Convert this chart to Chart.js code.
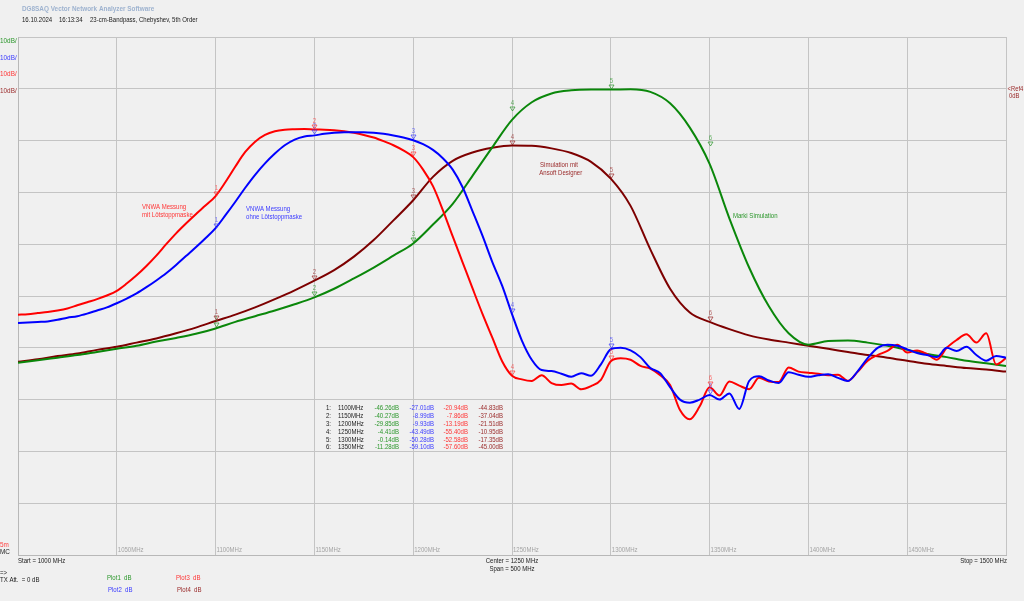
<!DOCTYPE html>
<html>
<head>
<meta charset="utf-8">
<script src="https://cdn.jsdelivr.net/npm/chart.js@4.4.1/dist/chart.umd.min.js"></script>
<style>
  body { margin: 0; background: #f0f0f0; }
  canvas { display: block; }
</style>
</head>
<body>
<canvas id="vnwa" width="1024" height="601"></canvas>
<script>
'use strict';

// frequency grids (MHz)
var freqCoarse = [1000, 1010, 1020, 1030, 1040, 1050, 1060, 1070, 1080, 1090,
  1100, 1110, 1120, 1130, 1140, 1150, 1160, 1170, 1180, 1190,
  1200, 1210, 1220, 1230, 1240, 1250, 1260, 1270, 1280, 1290,
  1300, 1310, 1320, 1330, 1340, 1350, 1360, 1370, 1380, 1390,
  1400, 1410, 1420, 1430, 1440, 1450, 1460, 1470, 1480, 1490, 1500];

var freqFine = [1000, 1005, 1010, 1015, 1020, 1025, 1030, 1035, 1040, 1045,
  1050, 1055, 1060, 1065, 1070, 1075, 1080, 1085, 1090, 1095,
  1100, 1105, 1110, 1115, 1120, 1125, 1130, 1135, 1140, 1145,
  1150, 1155, 1160, 1165, 1170, 1175, 1180, 1185, 1190, 1195,
  1200, 1205, 1210, 1215, 1220, 1225, 1230, 1235, 1240, 1245,
  1250, 1255, 1260, 1265, 1270, 1275, 1280, 1285, 1290, 1295,
  1300, 1305, 1310, 1315, 1320, 1325, 1330, 1335, 1340, 1345,
  1350, 1355, 1360, 1365, 1370, 1375, 1380, 1385, 1390, 1395,
  1400, 1405, 1410, 1415, 1420, 1425, 1430, 1435, 1440, 1445,
  1450, 1455, 1460, 1465, 1470, 1475, 1480, 1485, 1490, 1495, 1500];

// Plot1 (green) - Marki Simulation, on freqCoarse
var plot1 = [-52.9, -52.4, -51.9, -51.4, -50.8, -50.2, -49.6, -48.8, -48.1, -47.3,
  -46.26, -45.0, -43.9, -42.8, -41.6, -40.27, -38.6, -36.6, -34.5, -32.2,
  -29.85, -26.2, -22.2, -16.8, -11.3, -6.0, -2.6, -0.9, -0.3, -0.15,
  -0.14, -0.1, -0.6, -2.8, -7.5, -14.5, -25.0, -34.5, -42.0, -47.2,
  -49.4, -48.7, -48.6, -49.0, -49.6, -50.4, -51.2, -51.8, -52.5, -53.0, -53.5];

// Plot4 (dark red) - Simulation mit Ansoft Designer, on freqCoarse
var plot4 = [-52.7, -52.2, -51.6, -51.1, -50.4, -49.8, -49.0, -48.2, -47.2, -46.1,
  -44.83, -43.6, -42.2, -40.6, -38.9, -37.04, -35.0, -32.4, -29.2, -25.4,
  -21.51, -17.0, -13.9, -12.3, -11.4, -10.95, -11.0, -11.5, -12.4, -14.1,
  -17.35, -22.6, -31.0, -38.6, -43.2, -45.0, -46.4, -47.6, -48.4, -49.0,
  -49.6, -50.2, -50.8, -51.4, -51.9, -52.5, -53.1, -53.5, -53.9, -54.2, -54.6];

// Plot3 (red) - VNWA Messung mit Loetstoppmaske, on freqFine
var plot3 = [-43.6, -43.5, -43.3, -43.1, -42.8, -42.4, -41.8, -41.2, -40.6, -39.9,
  -39.0, -37.6, -36.0, -34.2, -32.2, -30.0, -27.9, -26.0, -24.2, -22.5,
  -20.7, -18.0, -15.0, -12.2, -10.2, -8.9, -8.2, -7.9, -7.8, -7.75,
  -7.86, -7.9, -8.0, -8.2, -8.5, -8.9, -9.4, -10.1, -10.9, -11.9,
  -13.19, -15.6, -18.8, -23.4, -28.5, -33.5, -38.5, -43.4, -48.0, -52.6,
  -55.4, -56.1, -56.4, -55.3, -56.8, -57.2, -56.9, -58.0, -57.4, -56.2,
  -52.58, -52.0, -52.3, -53.5, -54.0, -55.3, -57.2, -62.0, -63.8, -61.3,
  -57.6, -59.2, -56.5, -57.3, -58.0, -55.8, -56.5, -56.6, -53.8, -54.6,
  -54.8, -55.0, -55.3, -55.2, -56.4, -54.6, -52.5, -51.4, -50.6, -49.4,
  -50.9, -50.5, -51.2, -52.3, -50.0, -48.5, -47.4, -49.0, -47.2, -53.2, -52.0];

// Plot2 (blue) - VNWA Messung ohne Loetstoppmaske, on freqFine
var plot2 = [-45.2, -45.1, -45.0, -44.9, -44.6, -44.2, -43.9, -43.4, -42.8, -42.2,
  -41.4, -40.5, -39.5, -38.3, -37.0, -35.6, -34.0, -32.3, -30.6, -28.8,
  -26.9, -24.4, -21.8, -19.1, -16.6, -14.4, -12.5, -10.9, -9.8, -9.2,
  -8.99, -8.7, -8.5, -8.4, -8.4, -8.4, -8.5, -8.7, -9.0, -9.4,
  -9.93, -10.7, -11.8, -13.4, -15.6, -19.0, -23.6, -28.3, -33.4, -38.0,
  -43.49, -48.6, -52.3, -54.3, -54.5, -55.0, -55.6, -54.9, -55.4, -53.2,
  -50.28, -50.0, -50.5, -51.8, -53.9, -54.9, -57.6, -60.0, -60.6, -60.0,
  -59.1, -60.0, -58.8, -61.8, -56.4, -55.5, -56.3, -56.8, -54.7, -55.2,
  -55.6, -55.3, -55.1, -55.8, -56.4, -54.5, -52.0, -50.0, -49.4, -49.6,
  -50.3, -51.0, -51.4, -51.8, -50.0, -50.6, -49.8, -51.4, -52.5, -51.6, -51.9];

// markers 1..6
var markerFreqs = [1100, 1150, 1200, 1250, 1300, 1350];
var mk1 = [-46.26, -40.27, -29.85, -4.41, -0.14, -11.28];
var mk2 = [-27.01, -8.99, -9.93, -43.49, -50.28, -59.10];
var mk3 = [-20.94, -7.86, -13.19, -55.40, -52.58, -57.60];
var mk4 = [-44.83, -37.04, -21.51, -10.95, -17.35, -45.00];

var xTickLabels = [1050, 1100, 1150, 1200, 1250, 1300, 1350, 1400, 1450];

var traceColors = ['#0a870a', '#0000ff', '#ff0000', '#7d0000'];
var textColors = ['#2a962a', '#3a3aff', '#ff3434', '#9a2a2a'];
var FONT = '"Liberation Sans", Arial, sans-serif';
var FS = 7.2;   // font size
var SX = 0.84;  // horizontal squeeze, the original uses a narrow UI font

function pairs(xs, ys) {
  var out = [];
  for (var i = 0; i < xs.length; i++) {
    out.push({x: xs[i], y: ys[i]});
  }
  return out;
}

function txt(ctx, s, x, y, color, align, size, bold) {
  ctx.save();
  ctx.font = (bold ? 'bold ' : '') + (size || FS) + 'px ' + FONT;
  ctx.fillStyle = color;
  ctx.textAlign = align || 'left';
  ctx.textBaseline = 'middle';
  ctx.translate(x, y);
  ctx.scale(SX, 1);
  ctx.fillText(s, 0, 0);
  ctx.restore();
}

var vnwaText = {
  id: 'vnwaText',
  afterDatasetsDraw: function(chart) {
    var ctx = chart.ctx;
    var xs = chart.scales.x, ys = chart.scales.y;
    var mks = [mk1, mk2, mk3, mk4];
    ctx.save();
    // marker symbols
    for (var t = 0; t < mks.length; t++) {
      for (var i = 0; i < markerFreqs.length; i++) {
        var px = Math.round(xs.getPixelForValue(markerFreqs[i])) + 0.5;
        var py = Math.round(ys.getPixelForValue(mks[t][i]));
        ctx.strokeStyle = textColors[t];
        ctx.globalAlpha = 0.7;
        ctx.lineWidth = 1;
        ctx.beginPath();
        ctx.moveTo(px - 2.5, py - 5);
        ctx.lineTo(px + 2.5, py - 5);
        ctx.lineTo(px, py - 1);
        ctx.closePath();
        ctx.stroke();
        txt(ctx, String(i + 1), px, py - 9, textColors[t], 'center', 7.2);
        ctx.globalAlpha = 1;
      }
    }
    ctx.restore();
  },
  afterDraw: function(chart) {
    var ctx = chart.ctx;
    var xs = chart.scales.x, ys = chart.scales.y;
    var area = chart.chartArea;

    // header
    txt(ctx, 'DG8SAQ Vector Network Analyzer Software', 22, 9, '#9db2cf', 'left', 7.6, true);
    txt(ctx, '16.10.2024', 22, 20.5, '#1a1a1a', 'left');
    txt(ctx, '16:13:34', 59, 20.5, '#1a1a1a', 'left');
    txt(ctx, '23-cm-Bandpass, Chebyshev, 5th Order', 90, 20.5, '#1a1a1a', 'left');

    // scale labels on the left
    var scaleY = [40.5, 57.5, 74, 90.5];
    for (var t = 0; t < 4; t++) {
      txt(ctx, '10dB/', 0, scaleY[t], textColors[t], 'left', 7.6);
    }
    // reference on the right
    var refY = ys.getPixelForValue(0);
    txt(ctx, '<Ref4', area.right + 1.5, refY, '#9a2a2a', 'left', 7);
    txt(ctx, '0dB', area.right + 3, refY + 7, '#9a2a2a', 'left', 7);

    // frequency labels inside the plot
    for (var i = 0; i < xTickLabels.length; i++) {
      var gx = xs.getPixelForValue(xTickLabels[i]);
      txt(ctx, xTickLabels[i] + 'MHz', gx + 1, area.bottom - 4.5, '#a4a4a4', 'left');
    }

    // bottom info
    txt(ctx, '5m', 0, 545, '#ff4040', 'left', 7.6);
    txt(ctx, 'MC', 0, 551.5, '#1a1a1a', 'left', 7.6);
    txt(ctx, 'Start = 1000 MHz', area.left, 561, '#1a1a1a', 'left');
    txt(ctx, 'Center = 1250 MHz', xs.getPixelForValue(1250), 561, '#1a1a1a', 'center');
    txt(ctx, 'Span = 500 MHz', xs.getPixelForValue(1250), 569, '#1a1a1a', 'center');
    txt(ctx, 'Stop = 1500 MHz', area.right + 1, 561, '#1a1a1a', 'right');
    txt(ctx, '=>', 0, 573, '#1a1a1a', 'left');
    txt(ctx, 'TX Att.  = 0 dB', 0, 580.5, '#1a1a1a', 'left');
    txt(ctx, 'Plot1  dB', 107, 578, textColors[0], 'left');
    txt(ctx, 'Plot2  dB', 108, 590, textColors[1], 'left');
    txt(ctx, 'Plot3  dB', 176, 578, textColors[2], 'left');
    txt(ctx, 'Plot4  dB', 177, 590, textColors[3], 'left');

    // trace annotations
    txt(ctx, 'VNWA Messung', xs.getPixelForValue(1062.8), ys.getPixelForValue(-22.8), textColors[2], 'left');
    txt(ctx, 'mit L\u00f6tstoppmaske', xs.getPixelForValue(1062.8), ys.getPixelForValue(-24.35), textColors[2], 'left');
    txt(ctx, 'VNWA Messung', xs.getPixelForValue(1115.4), ys.getPixelForValue(-23.2), textColors[1], 'left');
    txt(ctx, 'ohne L\u00f6tstoppmaske', xs.getPixelForValue(1115.4), ys.getPixelForValue(-24.75), textColors[1], 'left');
    txt(ctx, 'Simulation mit', xs.getPixelForValue(1264.2), ys.getPixelForValue(-14.8), textColors[3], 'left');
    txt(ctx, 'Ansoft Designer', xs.getPixelForValue(1263.8), ys.getPixelForValue(-16.2), textColors[3], 'left');
    txt(ctx, 'Marki Simulation', xs.getPixelForValue(1361.8), ys.getPixelForValue(-24.5), textColors[0], 'left');

    // marker table
    var rowY0 = 408.5, rowH = 7.8;
    var valCols = [399, 434, 468, 503];
    var mks = [mk1, mk2, mk3, mk4];
    for (var r = 0; r < markerFreqs.length; r++) {
      var ry = rowY0 + r * rowH;
      txt(ctx, (r + 1) + ':', 331, ry, '#1a1a1a', 'right');
      txt(ctx, markerFreqs[r] + 'MHz', 338, ry, '#1a1a1a', 'left');
      for (var c = 0; c < 4; c++) {
        txt(ctx, mks[c][r].toFixed(2) + 'dB', valCols[c], ry, textColors[c], 'right');
      }
    }
  }
};

var gridStyle = {color: '#c4c4c4', lineWidth: 1, drawTicks: false};

var ctx = document.getElementById('vnwa').getContext('2d');
var chart = new Chart(ctx, {
  type: 'line',
  data: {
    datasets: [
      {label: 'Plot2', data: pairs(freqFine, plot2), borderColor: traceColors[1]},
      {label: 'Plot3', data: pairs(freqFine, plot3), borderColor: traceColors[2]},
      {label: 'Plot1', data: pairs(freqCoarse, plot1), borderColor: traceColors[0]},
      {label: 'Plot4', data: pairs(freqCoarse, plot4), borderColor: traceColors[3]}
    ]
  },
  options: {
    responsive: false,
    animation: false,
    events: [],
    layout: {padding: {left: 18, top: 37, right: 18, bottom: 46}},
    elements: {
      point: {radius: 0},
      line: {borderWidth: 2, cubicInterpolationMode: 'monotone', fill: false}
    },
    plugins: {legend: {display: false}, tooltip: {enabled: false}},
    scales: {
      x: {
        type: 'linear', min: 1000, max: 1500,
        ticks: {display: false, stepSize: 50},
        grid: gridStyle,
        border: {color: '#b8b8b8'}
      },
      y: {
        type: 'linear', min: -90, max: 10,
        ticks: {display: false, stepSize: 10},
        grid: gridStyle,
        border: {color: '#b8b8b8'}
      }
    }
  },
  plugins: [vnwaText]
});
</script>
</body>
</html>
